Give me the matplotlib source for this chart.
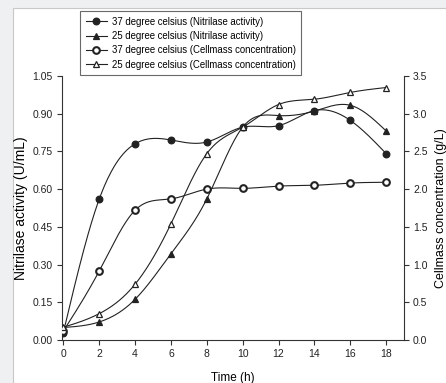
import numpy as np
import matplotlib
matplotlib.use("Agg")
import matplotlib.pyplot as plt
from matplotlib.patches import Rectangle

plt.rcParams['font.family'] = ['Liberation Sans', 'DejaVu Sans']

time_h = [0, 2, 4, 6, 8, 10, 12, 14, 16, 18]
nit_37 = [0.03, 0.56, 0.78, 0.795, 0.787, 0.846, 0.852, 0.912, 0.873, 0.741]
nit_25 = [0.05, 0.072, 0.162, 0.343, 0.561, 0.846, 0.892, 0.91, 0.933, 0.831]
cell_37 = [0.12, 0.915, 1.72, 1.87, 2.0, 2.01, 2.04, 2.05, 2.08, 2.09]
cell_25 = [0.17, 0.35, 0.74, 1.54, 2.47, 2.82, 3.12, 3.19, 3.28, 3.345]

labels = ["37 degree celsius (Nitrilase activity)",
          "25 degree celsius (Nitrilase activity)",
          "37 degree celsius (Cellmass concentration)",
          "25 degree celsius (Cellmass concentration)"]
left_ticks = [0.00, 0.15, 0.30, 0.45, 0.60, 0.75, 0.90, 1.05]
right_ticks = [0.0, 0.5, 1.0, 1.5, 2.0, 2.5, 3.0, 3.5]
x_ticks = [0, 2, 4, 6, 8, 10, 12, 14, 16, 18]


def spline(x, y, n=300):
    x = np.asarray(x, float)
    y = np.asarray(y, float)
    k = len(x)
    h = np.diff(x)
    A = np.zeros((k, k))
    b = np.zeros(k)
    A[0, 0] = 1
    A[-1, -1] = 1
    for i in range(1, k - 1):
        A[i, i - 1] = h[i - 1]
        A[i, i] = 2 * (h[i - 1] + h[i])
        A[i, i + 1] = h[i]
        b[i] = 6 * ((y[i + 1] - y[i]) / h[i] - (y[i] - y[i - 1]) / h[i - 1])
    M = np.linalg.solve(A, b)
    xs = np.linspace(x[0], x[-1], n)
    idx = np.clip(np.searchsorted(x, xs) - 1, 0, k - 2)
    x0, x1 = x[idx], x[idx + 1]
    hh = x1 - x0
    ys = (M[idx] * (x1 - xs) ** 3 / (6 * hh) + M[idx + 1] * (xs - x0) ** 3 / (6 * hh)
          + (y[idx] / hh - M[idx] * hh / 6) * (x1 - xs)
          + (y[idx + 1] / hh - M[idx + 1] * hh / 6) * (xs - x0))
    return xs, ys


fig = plt.figure(figsize=(4.46, 3.83), dpi=100)
fig.patch.set_facecolor('#eef0f2')
fig.patches.append(Rectangle((13 / 446, 0), 1, 1 - 8 / 383, transform=fig.transFigure,
                             facecolor='white', edgecolor='#c8c8c8', lw=0.8, zorder=-1))

ax = fig.add_axes([0.138, 0.112, 0.768, 0.690])
ax.patch.set_alpha(0)
ax2 = ax.twinx()
ax2.patch.set_alpha(0)

lc = '#222222'
lw = 0.8
handles = []
for data, axis, mk, face, lab in [
        (nit_37, ax, 'o', lc, labels[0]),
        (nit_25, ax, '^', lc, labels[1]),
        (cell_37, ax2, 'o', 'white', labels[2]),
        (cell_25, ax2, '^', 'white', labels[3])]:
    xs, ys = spline(time_h, data)
    axis.plot(xs, ys, color=lc, lw=lw, zorder=2)
    ms = 4.8 if mk == 'o' else 5.0
    mew = 1.5 if (mk == 'o' and face == 'white') else 0.9
    axis.plot(time_h, data, linestyle='none', marker=mk, ms=ms, mfc=face, mec=lc, mew=mew, zorder=3)
    h, = ax.plot([], [], color=lc, lw=lw, marker=mk, ms=ms, mfc=face, mec=lc, mew=mew)
    handles.append(h)

ax.set_xlim(-0.1, 19)
ax.set_ylim(0, 1.05)
ax2.set_ylim(0, 3.5)
ax.set_xticks(x_ticks)
ax.set_yticks(left_ticks)
ax.set_yticklabels([f"{v:.2f}" for v in left_ticks])
ax2.set_yticks(right_ticks)
ax2.set_yticklabels([f"{v:.1f}" for v in right_ticks])

for a in (ax, ax2):
    a.spines['top'].set_visible(False)
    for s in a.spines.values():
        s.set_linewidth(0.8)
        s.set_color('#333333')
    a.tick_params(direction='out', length=3.5, width=0.8, labelsize=7.5, colors='#333333', labelcolor='#222222', pad=3)
ax.spines['right'].set_visible(False)
ax2.spines['left'].set_visible(False)
ax2.spines['bottom'].set_visible(False)

ax.set_xlabel("Time (h)", fontsize=8.5, labelpad=9)
ax.set_ylabel("Nitrilase activity (U/mL)", fontsize=10, labelpad=3)
ax2.set_ylabel("Cellmass concentration (g/L)", fontsize=9, labelpad=5)

leg = fig.legend(handles, labels, loc='upper left', bbox_to_anchor=(80 / 446, 1 - 11 / 383),
                 fontsize=6.9, frameon=True, fancybox=False, handlelength=2.2,
                 handletextpad=0.5, labelspacing=0.45, borderpad=0.6, borderaxespad=0)
leg.get_frame().set_edgecolor('#444444')
leg.get_frame().set_linewidth(0.8)

fig.savefig("out.png", dpi=100, facecolor=fig.get_facecolor())
